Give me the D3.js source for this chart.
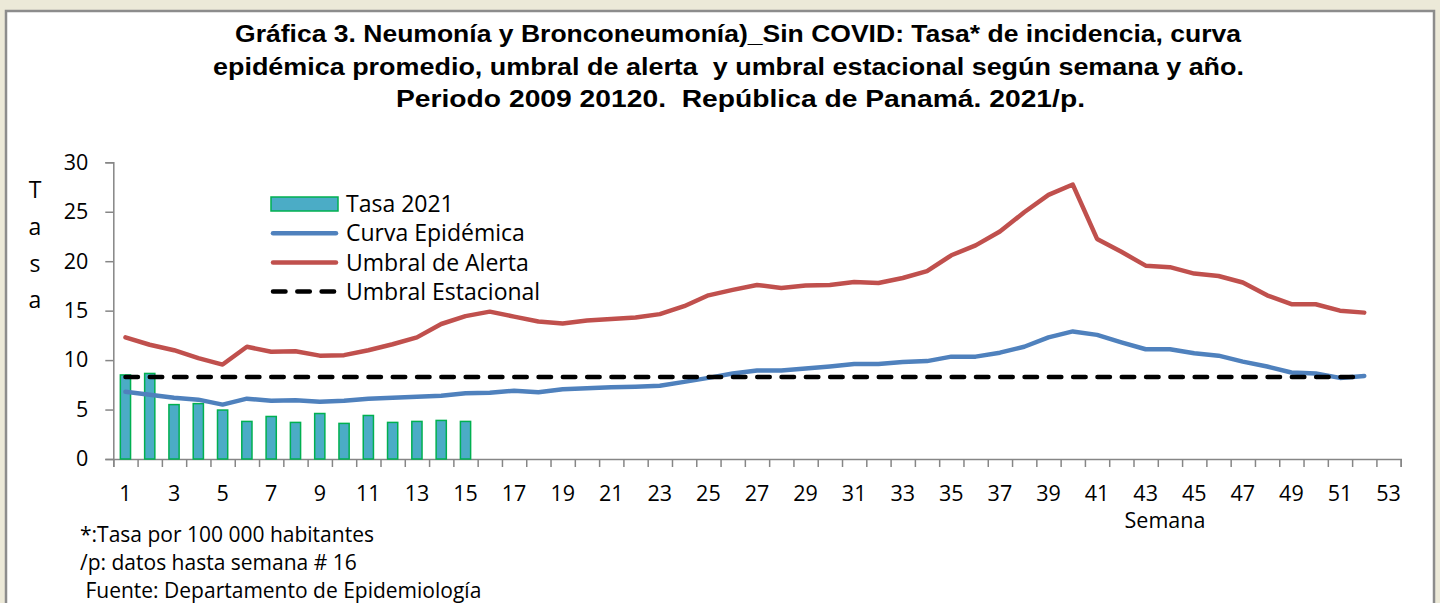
<!DOCTYPE html>
<html>
<head>
<meta charset="utf-8">
<script src="https://cdn.jsdelivr.net/npm/d3@7"></script>
<style>
  html, body { margin: 0; padding: 0; background: #ECE9D8; }
  svg { display: block; }
  text { white-space: pre; }
</style>
</head>
<body>
<svg id="chart"></svg>
<script>
// semanas epidemiologicas
const semanas = d3.range(1, 54);
const etiquetasX = semanas.filter(s => s % 2 === 1);
const ticksY = [0, 5, 10, 15, 20, 25, 30];

// Tasa 2021 (datos hasta semana 15)
const tasa2021 = [8.5, 8.65, 5.5, 5.6, 4.95, 3.8, 4.3, 3.7, 4.6, 3.6, 4.4, 3.7, 3.8, 3.9, 3.8];

// curva epidemica promedio, semanas 1-52
const curvaEpidemica = [
  6.8, 6.5, 6.2, 6.0, 5.5, 6.1, 5.9, 5.95, 5.8, 5.9,
  6.1, 6.2, 6.3, 6.4, 6.65, 6.7, 6.9, 6.75, 7.05, 7.15,
  7.25, 7.3, 7.4, 7.8, 8.2, 8.65, 8.95, 8.95, 9.15, 9.35,
  9.6, 9.6, 9.8, 9.9, 10.35, 10.35, 10.75, 11.35, 12.3, 12.9,
  12.55, 11.8, 11.1, 11.1, 10.7, 10.45, 9.85, 9.35, 8.75, 8.65,
  8.2, 8.4
];

// umbral de alerta, semanas 1-52
const umbralAlerta = [
  12.3, 11.55, 11.0, 10.2, 9.55, 11.35, 10.85, 10.9, 10.45, 10.5,
  11.0, 11.6, 12.3, 13.65, 14.45, 14.9, 14.4, 13.9, 13.7, 14.0,
  14.15, 14.3, 14.65, 15.45, 16.55, 17.1, 17.6, 17.3, 17.55, 17.6,
  17.9, 17.8, 18.3, 19.0, 20.6, 21.6, 23.0, 24.95, 26.7, 27.75,
  22.25, 20.95, 19.55, 19.4, 18.75, 18.5, 17.85, 16.55, 15.65, 15.65,
  15.0, 14.8
];

// umbral estacional (constante, semanas 1-52)
const umbralEstacional = 8.3;

const titulo = [
  'Gráfica 3. Neumonía y Bronconeumonía)_Sin COVID: Tasa* de incidencia, curva',
  'epidémica promedio, umbral de alerta  y umbral estacional según semana y año.',
  'Periodo 2009 20120.  República de Panamá. 2021/p.'
];
const notas = [
  '*:Tasa por 100 000 habitantes',
  '/p: datos hasta semana # 16',
  ' Fuente: Departamento de Epidemiología'
];

const W = 1440, H = 603;
const textFont = "'Open Sans', sans-serif";
const colTasa = '#4BACC6', colTasaBorde = '#00B050';
const colCurva = '#4F81BD', colAlerta = '#C0504D';
const colEje = '#868686';

const svg = d3.select('#chart').attr('width', W).attr('height', H);

// marco blanco
svg.append('rect')
  .attr('x', 6).attr('y', 11)
  .attr('width', 1428).attr('height', 640)
  .attr('fill', '#fff')
  .attr('stroke', '#8c8c8c')
  .attr('stroke-width', 2.5);

// titulo
svg.append('g')
  .selectAll('text')
  .data(titulo)
  .join('text')
  .attr('x', (d, i) => [235, 213, 396][i])
  .attr('y', (d, i) => 42 + i * 32.5)
  .attr('font-family', "'Liberation Sans', Arial, sans-serif")
  .attr('font-weight', 'bold')
  .attr('font-size', 23.5)
  .attr('fill', '#000')
  .attr('textLength', (d, i) => [1006, 1031, 689][i])
  .attr('lengthAdjust', 'spacingAndGlyphs')
  .text(d => d);

// escalas
const x = d3.scaleBand().domain(semanas).range([113.3, 1400.7]);
const xBordes = d3.scaleLinear().domain([0, semanas.length]).range([113.3, 1400.7]);
const y = d3.scaleLinear().domain([0, 30]).range([459, 162.3]);
const cx = s => x(s) + x.bandwidth() / 2;

// eje Y
const ejeY = svg.append('g')
  .attr('transform', `translate(${x.range()[0]},0)`)
  .call(d3.axisLeft(y).tickValues(ticksY).tickSize(8).tickPadding(17));
ejeY.select('.domain').attr('stroke', colEje).attr('stroke-width', 1.5);
ejeY.selectAll('.tick line').attr('stroke', colEje).attr('stroke-width', 1.5);
ejeY.selectAll('.tick text')
  .attr('font-family', textFont).attr('font-size', 21.5).attr('fill', '#000');

// eje X: marcas entre categorias
const ejeXMarcas = svg.append('g')
  .attr('transform', `translate(0,${y(0)})`)
  .call(d3.axisBottom(xBordes).tickValues(d3.range(0, semanas.length + 1))
    .tickSize(8).tickFormat(''));
ejeXMarcas.select('.domain').attr('stroke', colEje).attr('stroke-width', 1.5);
ejeXMarcas.selectAll('.tick line').attr('stroke', colEje).attr('stroke-width', 1.5);

// eje X: etiquetas
const ejeX = svg.append('g')
  .attr('transform', `translate(0,${y(0)})`)
  .call(d3.axisBottom(x).tickValues(etiquetasX).tickSize(0).tickPadding(27));
ejeX.select('.domain').remove();
ejeX.selectAll('.tick text')
  .attr('font-family', textFont).attr('font-size', 21.5).attr('fill', '#000');

// barras Tasa 2021
const anchoBarra = x.bandwidth() * 0.42;
svg.append('g')
  .selectAll('rect')
  .data(tasa2021)
  .join('rect')
  .attr('x', (d, i) => cx(semanas[i]) - anchoBarra / 2)
  .attr('y', d => y(d))
  .attr('width', anchoBarra)
  .attr('height', d => y(0) - y(d))
  .attr('fill', colTasa)
  .attr('stroke', colTasaBorde)
  .attr('stroke-width', 1.5);

const linea = d3.line()
  .x((d, i) => cx(semanas[i]))
  .y(d => y(d));

// umbral de alerta
svg.append('path')
  .datum(umbralAlerta)
  .attr('d', linea)
  .attr('fill', 'none')
  .attr('stroke', colAlerta)
  .attr('stroke-width', 4.5)
  .attr('stroke-linejoin', 'round')
  .attr('stroke-linecap', 'round');

// curva epidemica
svg.append('path')
  .datum(curvaEpidemica)
  .attr('d', linea)
  .attr('fill', 'none')
  .attr('stroke', colCurva)
  .attr('stroke-width', 4.5)
  .attr('stroke-linejoin', 'round')
  .attr('stroke-linecap', 'round');

// umbral estacional
svg.append('path')
  .datum(curvaEpidemica.map(() => umbralEstacional))
  .attr('d', linea)
  .attr('fill', 'none')
  .attr('stroke', '#000')
  .attr('stroke-width', 4.5)
  .attr('stroke-dasharray', '12.5,11.8')
  .attr('stroke-linecap', 'round');

// leyenda
const leyenda = [
  { nombre: 'Tasa 2021', tipo: 'barra' },
  { nombre: 'Curva Epidémica', tipo: 'linea', color: colCurva },
  { nombre: 'Umbral de Alerta', tipo: 'linea', color: colAlerta },
  { nombre: 'Umbral Estacional', tipo: 'guiones', color: '#000' }
];
const ley = svg.append('g').attr('transform', 'translate(271,204)');
const item = ley.selectAll('g')
  .data(leyenda)
  .join('g')
  .attr('transform', (d, i) => `translate(0,${i * 29.2})`);
item.filter(d => d.tipo === 'barra')
  .append('rect')
  .attr('x', 0).attr('y', -7)
  .attr('width', 67).attr('height', 14)
  .attr('fill', colTasa)
  .attr('stroke', colTasaBorde)
  .attr('stroke-width', 1.5);
item.filter(d => d.tipo !== 'barra')
  .append('line')
  .attr('x1', 2).attr('x2', 65)
  .attr('stroke', d => d.color)
  .attr('stroke-width', 4.5)
  .attr('stroke-linecap', 'round')
  .attr('stroke-dasharray', d => d.tipo === 'guiones' ? '12.5,11.8' : null);
item.append('text')
  .attr('x', 75)
  .attr('dy', '0.36em')
  .attr('font-family', textFont)
  .attr('font-size', 23)
  .attr('fill', '#000')
  .text(d => d.nombre);

// titulo eje Y (vertical, letra por letra)
svg.append('g')
  .selectAll('text')
  .data('Tasa'.split(''))
  .join('text')
  .attr('x', 35)
  .attr('y', (d, i) => 190 + i * 36.7)
  .attr('dy', '0.36em')
  .attr('text-anchor', 'middle')
  .attr('font-family', textFont)
  .attr('font-size', 23)
  .attr('fill', '#000')
  .text(d => d);

// titulo eje X
svg.append('text')
  .attr('x', 1165)
  .attr('y', 528)
  .attr('text-anchor', 'middle')
  .attr('font-family', textFont)
  .attr('font-size', 21.5)
  .attr('fill', '#000')
  .text('Semana');

// notas
svg.append('g')
  .selectAll('text')
  .data(notas)
  .join('text')
  .attr('x', 80)
  .attr('y', (d, i) => 541.5 + i * 28.3)
  .attr('font-family', textFont)
  .attr('font-size', 21)
  .attr('fill', '#000')
  .text(d => d);
</script>
</body>
</html>
